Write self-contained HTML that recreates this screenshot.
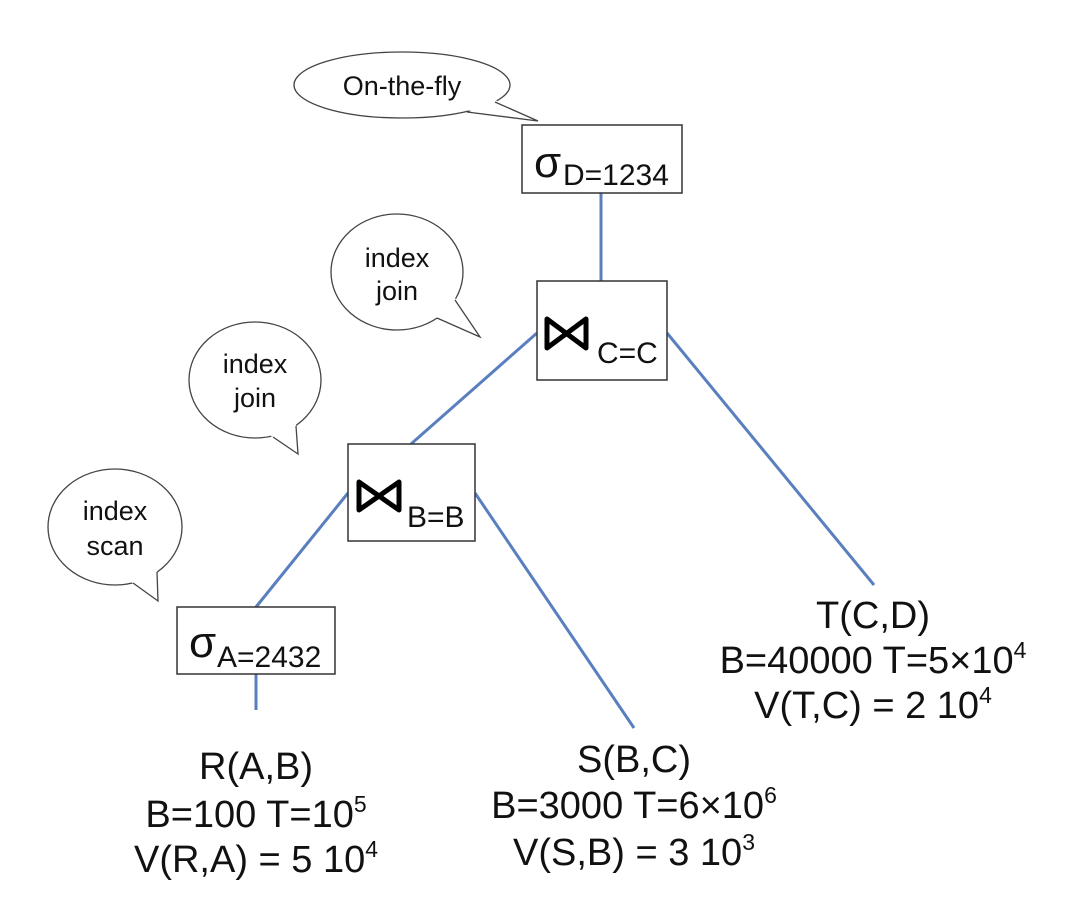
<!DOCTYPE html>
<html><head><meta charset="utf-8"><style>
html,body{margin:0;padding:0;background:#fff}
svg{display:block}
text{font-family:"Liberation Sans",sans-serif;fill:#111}
</style></head><body>
<svg width="1066" height="904" viewBox="0 0 1066 904" xmlns="http://www.w3.org/2000/svg">
<g stroke="#5a7fbf" stroke-width="3" fill="none">
<line x1="601" y1="193" x2="601" y2="281"/>
<line x1="537" y1="333" x2="411" y2="444"/>
<line x1="667" y1="333" x2="874" y2="585"/>
<line x1="348" y1="493" x2="256" y2="607"/>
<line x1="475" y1="493" x2="634" y2="728"/>
<line x1="256" y1="674" x2="256" y2="710"/>
</g>
<g stroke="#333" stroke-width="1.5" fill="#fff">
<rect x="522" y="125" width="160" height="68"/>
<rect x="537" y="281" width="130" height="99"/>
<rect x="348" y="444" width="127" height="97"/>
<rect x="177" y="607" width="158" height="67"/>
</g>
<g stroke="#444" stroke-width="1.3" fill="#fff">
<ellipse cx="402" cy="85" rx="108" ry="33"/>
<ellipse cx="397" cy="272" rx="66" ry="58"/>
<ellipse cx="255" cy="380" rx="66" ry="58"/>
<ellipse cx="115" cy="527" rx="67" ry="58"/>
</g>
<g fill="#fff" stroke="none">
<polygon points="495,100 538,121 465,110 420,85"/>
<polygon points="455,298 480,337 435,317 397,272"/>
<polygon points="296,424 298,454 271,436 255,380"/>
<polygon points="157,570 158,601 131,582 115,527"/>
</g>
<g stroke="#444" stroke-width="1.3" fill="none">
<polyline points="495,102 538,121 467,112"/>
<polyline points="455,300 480,337 437,318"/>
<polyline points="296,426 298,454 273,437"/>
<polyline points="157,572 158,601 133,583"/>
</g>
<g font-size="27" text-anchor="middle">
<text x="402" y="95">On-the-fly</text>
<text x="397" y="267">index</text>
<text x="397" y="300">join</text>
<text x="255" y="373">index</text>
<text x="255" y="407">join</text>
<text x="115" y="520">index</text>
<text x="115" y="555">scan</text>
</g>
<text x="534" y="177" font-size="44">σ</text>
<text x="563" y="185" font-size="30">D=1234</text>
<text x="189" y="657" font-size="44">σ</text>
<text x="217" y="667" font-size="30">A=2432</text>
<g stroke="#000" stroke-width="5" fill="none" stroke-linejoin="round">
<path d="M547,319 L547,348 L586,319 L586,348 Z"/>
<path d="M359,482 L359,510 L399,482 L399,510 Z"/>
</g>
<text x="597" y="363" font-size="30">C=C</text>
<text x="407" y="527" font-size="30">B=B</text>
<g font-size="38" text-anchor="middle">
<text x="873" y="628">T(C,D)</text>
<text x="873" y="673">B=40000 T=5×10<tspan font-size="23" dy="-15">4</tspan></text>
<text x="873" y="718">V(T,C) = 2 10<tspan font-size="23" dy="-15">4</tspan></text>
<text x="256" y="779">R(A,B)</text>
<text x="256" y="827">B=100 T=10<tspan font-size="23" dy="-15">5</tspan></text>
<text x="256" y="872">V(R,A) = 5 10<tspan font-size="23" dy="-15">4</tspan></text>
<text x="634" y="772">S(B,C)</text>
<text x="634" y="818">B=3000 T=6×10<tspan font-size="23" dy="-15">6</tspan></text>
<text x="634" y="865">V(S,B) = 3 10<tspan font-size="23" dy="-15">3</tspan></text>
</g>
</svg>
</body></html>
